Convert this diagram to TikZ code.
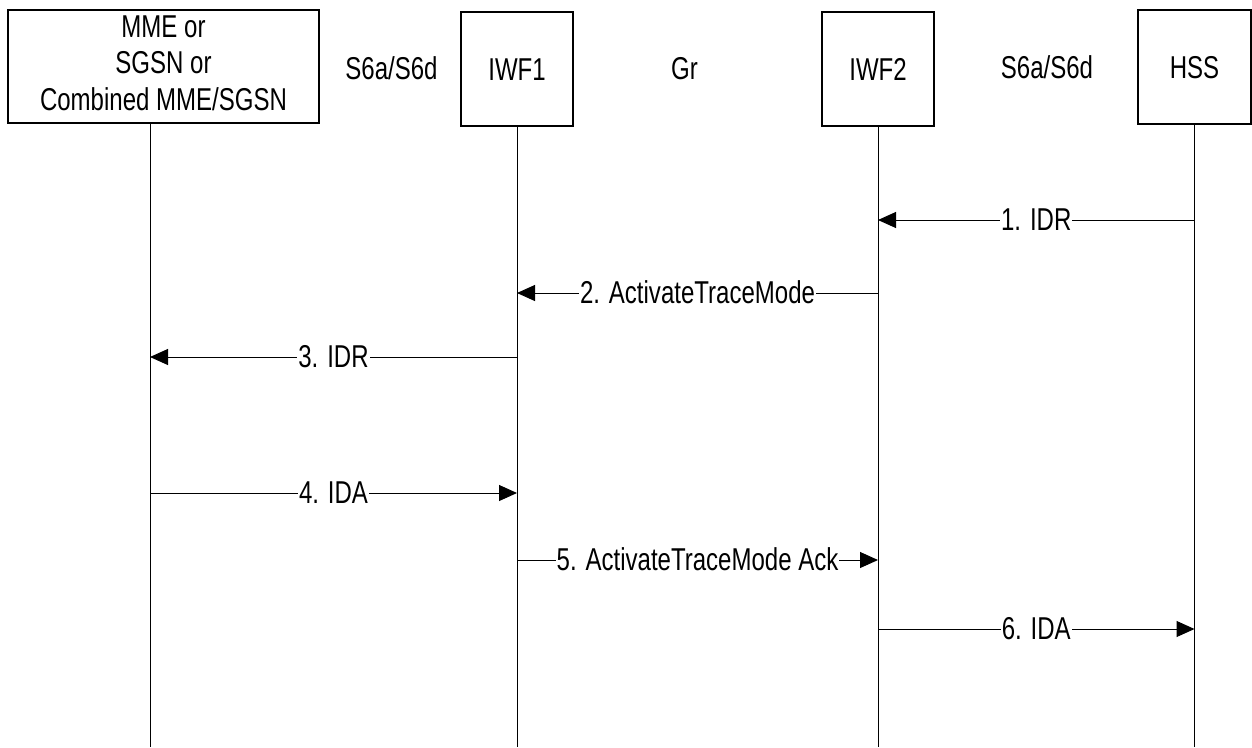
\documentclass[tikz,border=0pt]{standalone}
\usepackage{fontspec}
\setmainfont{Liberation Sans}[FakeStretch=0.76]
\usetikzlibrary{arrows.meta}
\begin{document}
\begin{tikzpicture}[x=1pt,y=-1pt,
  every node/.style={font=\fontsize{31.6}{36.5}\selectfont},
  box/.style={draw, line width=1.2pt, inner sep=0pt, align=center, text height=22.6pt, text depth=0pt},
  life/.style={line width=1pt},
  msg/.style={line width=1pt, -{Triangle[length=18pt,width=16pt]}},
  lbl/.style={fill=white, inner xsep=1pt, inner ysep=0pt, text height=22.6pt, text depth=0pt, yshift=1.3pt},
  iface/.style={anchor=base, inner sep=0pt}]
\useasboundingbox (0,0) rectangle (1252,747);
% boxes
\node[box, minimum width=311pt, minimum height=113pt, text height=95.6pt, text depth=8.6pt] (mme) at (163.5,66.5) {MME or\\SGSN or\\Combined MME/SGSN};
\node[box, minimum width=112pt, minimum height=114pt] (iwf1) at (517,69) {IWF1};
\node[box, minimum width=112pt, minimum height=114pt] (iwf2) at (878,69) {IWF2};
\node[box, minimum width=113pt, minimum height=114pt] (hss) at (1194.5,67) {HSS};
% interface labels
\node[iface] (if1) at (391.5,79) {S6a/S6d};
\node[iface] (if2) at (684.5,79) {Gr};
\node[iface] (if3) at (1047,78) {S6a/S6d};
% lifelines
\coordinate (mmeB) at (150,747);
\draw[life] (mmeB |- mme.south) -- (mmeB);
\draw[life] (iwf1.south) -- (iwf1.south |- mmeB);
\draw[life] (iwf2.south) -- (iwf2.south |- mmeB);
\draw[life] (hss.south) -- (hss.south |- mmeB);
% message rows
\coordinate (y1) at (0,220);
\coordinate (y2) at (0,293);
\coordinate (y3) at (0,357);
\coordinate (y4) at (0,493);
\coordinate (y5) at (0,560);
\coordinate (y6) at (0,629);
\draw[msg] (hss.south |- y1) -- (iwf2.south |- y1) node[midway, lbl] (m1) {1. IDR};
\draw[msg] (iwf2.south |- y2) -- (iwf1.south |- y2) node[midway, lbl] (m2) {2. ActivateTraceMode};
\draw[msg] (iwf1.south |- y3) -- (mmeB |- y3) node[midway, lbl] (m3) {3. IDR};
\draw[msg] (mmeB |- y4) -- (iwf1.south |- y4) node[midway, lbl] (m4) {4. IDA};
\draw[msg] (iwf1.south |- y5) -- (iwf2.south |- y5) node[midway, lbl] (m5) {5. ActivateTraceMode Ack};
\draw[msg] (iwf2.south |- y6) -- (hss.south |- y6) node[midway, lbl] (m6) {6. IDA};
\end{tikzpicture}
\end{document}
